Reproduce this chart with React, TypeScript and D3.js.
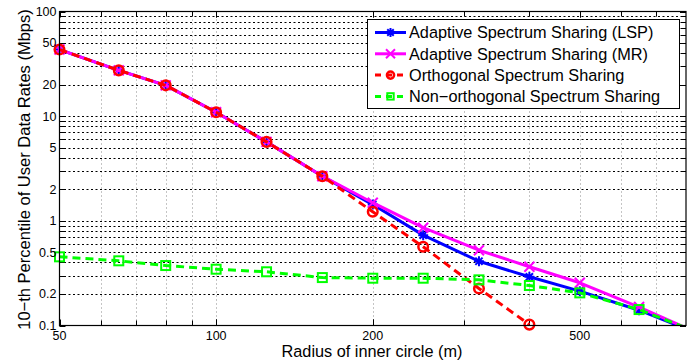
import React, { useEffect, useRef } from 'react';
import * as d3 from 'd3';

// radius of inner circle (m)
const radius = [50, 65, 80, 100, 125, 160, 200, 250, 320, 400, 500, 650, 800];
// 10-th percentile user rates (Mbps)
const lsp = [43.3, 27.4, 19.7, 10.9, 5.68, 2.67, 1.43, 0.73, 0.411, 0.292, 0.213, 0.14, 0.093];
const mr = [43.3, 27.4, 19.7, 10.9, 5.68, 2.67, 1.49, 0.86, 0.524, 0.364, 0.256, 0.15, 0.095];
const orth = [43.3, 27.4, 19.7, 10.9, 5.68, 2.67, 1.22, 0.565, 0.226, 0.102];
const nonOrth = [0.453, 0.415, 0.374, 0.345, 0.326, 0.287, 0.283, 0.283, 0.273, 0.241, 0.205, 0.142, 0.095];

const xTickLabels = [50, 100, 200, 500];
const yTickLabels = [0.1, 0.2, 0.5, 1, 2, 5, 10, 20, 50, 100];

const series = [
    { name: 'Adaptive Spectrum Sharing (LSP)', values: lsp, color: '#0000ff', dash: null, marker: 'star' },
    { name: 'Adaptive Spectrum Sharing (MR)', values: mr, color: '#ff00ff', dash: null, marker: 'x' },
    { name: 'Orthogonal Spectrum Sharing', values: orth, color: '#ff0000', dash: '8,5', marker: 'circle' },
    { name: 'Non\u2212orthogonal Spectrum Sharing', values: nonOrth, color: '#00ff00', dash: '8,5', marker: 'square' },
];

const drawMarker = (g, type, cx, cy, color, s) => {
    if (type === 'circle') {
        g.append('circle').attr('cx', cx).attr('cy', cy).attr('r', s)
            .attr('fill', 'none').attr('stroke', color).attr('stroke-width', 2.5);
    } else if (type === 'square') {
        g.append('rect').attr('x', cx - s).attr('y', cy - s).attr('width', 2 * s).attr('height', 2 * s)
            .attr('fill', 'none').attr('stroke', color).attr('stroke-width', 2);
    } else if (type === 'x') {
        const d = `M${cx - s},${cy - s}L${cx + s},${cy + s}M${cx - s},${cy + s}L${cx + s},${cy - s}`;
        g.append('path').attr('d', d).attr('stroke', color).attr('stroke-width', 2);
    } else {
        const k = s * 0.72;
        const d = `M${cx - s},${cy}L${cx + s},${cy}M${cx},${cy - s}L${cx},${cy + s}` +
            `M${cx - k},${cy - k}L${cx + k},${cy + k}M${cx - k},${cy + k}L${cx + k},${cy - k}`;
        g.append('path').attr('d', d).attr('stroke', color).attr('stroke-width', 2);
    }
};

const RateChart = () => {
    const svgRef = useRef();

    useEffect(() => {
        const svg = d3.select(svgRef.current);
        svg.selectAll('*').remove();

        const left = 59.5, right = 686, top = 11.5, bottom = 325.5;
        const font = '"Liberation Sans", Arial, sans-serif';

        const x = d3.scaleLog().domain([50, 800]).range([left, right]);
        const y = d3.scaleLog().domain([0.1, 100]).range([bottom, top]);

        svg.append('rect').attr('x', left).attr('y', top)
            .attr('width', right - left).attr('height', bottom - top).attr('fill', '#fff');

        // grid
        const xGrid = x.ticks().filter(t => t > 50 && t < 800);
        const yGrid = y.ticks().filter(t => t > 0.1 && t < 100);

        svg.append('g').selectAll('line').data(xGrid).enter().append('line')
            .attr('x1', d => Math.round(x(d)) + 0.5).attr('x2', d => Math.round(x(d)) + 0.5)
            .attr('y1', top).attr('y2', bottom)
            .attr('stroke', '#8a8a8a').attr('stroke-width', 1).attr('stroke-dasharray', '1,3');

        svg.append('g').selectAll('line').data(yGrid).enter().append('line')
            .attr('x1', left).attr('x2', right)
            .attr('y1', d => Math.round(y(d)) + 0.5).attr('y2', d => Math.round(y(d)) + 0.5)
            .attr('stroke', '#000').attr('stroke-width', 1.2).attr('stroke-dasharray', '2,2.5');

        // ticks (inside, all four sides)
        const ticks = svg.append('g').attr('stroke', '#000').attr('stroke-width', 1);
        xGrid.concat(xTickLabels).forEach(t => {
            const len = xTickLabels.includes(t) ? 6 : 5;
            const px = Math.round(x(t)) + 0.5;
            ticks.append('line').attr('x1', px).attr('x2', px).attr('y1', bottom).attr('y2', bottom - len);
            ticks.append('line').attr('x1', px).attr('x2', px).attr('y1', top).attr('y2', top + len);
        });
        y.ticks().forEach(t => {
            const len = yTickLabels.includes(t) ? 6 : 5;
            const py = Math.round(y(t)) + 0.5;
            ticks.append('line').attr('x1', left).attr('x2', left + len).attr('y1', py).attr('y2', py);
            ticks.append('line').attr('x1', right).attr('x2', right - len).attr('y1', py).attr('y2', py);
        });

        // series
        svg.append('defs').append('clipPath').attr('id', 'plot-clip')
            .append('rect').attr('x', left).attr('y', top)
            .attr('width', right - left).attr('height', bottom - top);

        const line = d3.line().x(d => x(d[0])).y(d => y(d[1]));

        series.forEach(s => {
            const pts = s.values.map((v, i) => [radius[i], v]);
            svg.append('path').datum(pts)
                .attr('d', line)
                .attr('clip-path', 'url(#plot-clip)')
                .attr('fill', 'none')
                .attr('stroke', s.color)
                .attr('stroke-width', 3)
                .attr('stroke-dasharray', s.dash)
                .attr('stroke-linejoin', 'round');
            const g = svg.append('g');
            pts.filter(p => p[1] >= 0.1).forEach(p => {
                const sz = s.marker === 'circle' ? 4.8 : s.marker === 'square' ? 4.5 : 5;
                drawMarker(g, s.marker, x(p[0]), y(p[1]), s.color, sz);
            });
        });

        // axes box
        svg.append('rect').attr('x', left).attr('y', top)
            .attr('width', right - left).attr('height', bottom - top)
            .attr('fill', 'none').attr('stroke', '#000').attr('stroke-width', 1.2);

        // tick labels
        svg.append('g').selectAll('text').data(yTickLabels).enter().append('text')
            .attr('x', left - 3).attr('y', d => y(d))
            .attr('dy', '0.35em').attr('text-anchor', 'end')
            .attr('font-family', font).attr('font-size', 12.5)
            .text(d => d);

        svg.append('g').selectAll('text').data(xTickLabels).enter().append('text')
            .attr('x', d => x(d)).attr('y', 340)
            .attr('text-anchor', 'middle')
            .attr('font-family', font).attr('font-size', 12.5)
            .text(d => d);

        // axis titles
        svg.append('text')
            .attr('x', 372).attr('y', 357)
            .attr('text-anchor', 'middle')
            .attr('font-family', font).attr('font-size', 16.3)
            .text('Radius of inner circle (m)');

        svg.append('text')
            .attr('transform', `translate(30,${(top + bottom) / 2 + 1}) rotate(-90)`)
            .attr('text-anchor', 'middle')
            .attr('font-family', font).attr('font-size', 16.5)
            .text('10\u2212th Percentile of User Data Rates (Mbps)');

        // legend
        const lg = svg.append('g');
        lg.append('rect').attr('x', 367.5).attr('y', 19.5).attr('width', 312).attr('height', 89)
            .attr('fill', '#fff').attr('stroke', '#000').attr('stroke-width', 1);
        series.forEach((s, i) => {
            const ly = 32.5 + i * 21.3;
            lg.append('line').attr('x1', 375).attr('x2', 406).attr('y1', ly).attr('y2', ly)
                .attr('stroke', s.color).attr('stroke-width', 3)
                .attr('stroke-dasharray', s.dash ? '6,5' : null);
            const sz = s.marker === 'circle' ? 3.6 : s.marker === 'square' ? 3.2 : 4.5;
            drawMarker(lg, s.marker, 390.5, ly, s.color, sz);
            lg.append('text').attr('x', 409).attr('y', ly).attr('dy', '0.35em')
                .attr('font-family', font).attr('font-size', 16.3)
                .text(s.name);
        });
    }, []);

    return (
        <svg ref={svgRef} width={700} height={360}
            style={{ position: 'absolute', left: 0, top: 0, background: '#fff' }}></svg>
    );
};

export default function App() {
    return <RateChart />;
}
